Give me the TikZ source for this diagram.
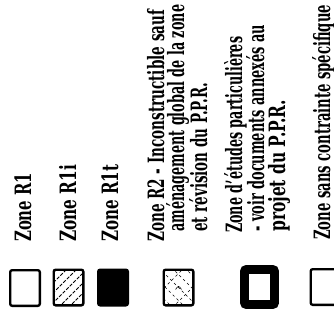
\documentclass[tikz,border=0pt]{standalone}
\usepackage{fontspec}
\setmainfont{DejaVu Serif}
\usepackage{graphicx}
\newcommand\fitw[2]{\resizebox{#1pt}{\height}{#2}}
\begin{document}
\begin{tikzpicture}[x=1pt,y=-1pt,
  lbl/.style={rotate=90, anchor=base west, inner sep=0pt, text=black,
    font=\bfseries\fontsize{22.5}{22.5}\selectfont},
  zbox/.style={draw=black, line width=2.4pt, rounded corners=2pt,
    minimum width=29.6pt, minimum height=35.6pt, inner sep=0pt, outer sep=0pt},
  hatch/.style={line width=0.8pt, dash pattern=on 3.5pt off 1.5pt},
  xhatch/.style={line width=0.6pt, dash pattern=on 2.5pt off 3pt}
]
\useasboundingbox (0,0) rectangle (334,320);

% boxes
\node[zbox] (b1) at (25,288) {};
\node[zbox, path picture={
  \foreach \k in {-40,-30,...,40}
    \draw[hatch] (\k-20,20) -- (\k+20,-20);
}] (b2) at (68.5,287.5) {};
\node[zbox, fill=black] (b3) at (113,287.5) {};
\node[zbox, path picture={
  \foreach \k in {-39,-26,...,39}
    \draw[xhatch] (\k-20,-20) -- (\k+20,20);
  \foreach \k in {-14,14}
    \draw[xhatch] (\k-20,20) -- (\k+20,-20);
  \draw[line width=0.6pt] (-3,2) -- (0,-2) -- (3,2);
}] (b4) at (178.5,287.5) {};
\node[zbox, line width=8.8pt, minimum width=30pt, minimum height=35pt] (b5) at (259.5,287) {};
\node[zbox] (b6) at (325.5,287) {};

% labels
\node[lbl] (t1) at (31,242) {\fitw{69}{Zone R1}};
\node[lbl] (t2) at (76,242) {\fitw{77}{Zone R1i}};
\node[lbl] (t3) at (118,242) {\fitw{77}{Zone R1t}};
\node[lbl] (t4a) at (164,242) {\fitw{232}{Zone R2 - Inconstructible sauf}};
\node[lbl] (t4b) at (184,232) {\fitw{227}{aménagement global de la zone}};
\node[lbl] (t4c) at (207,232) {\fitw{149}{et révision du P.P.R.}};
\node[lbl] (t5a) at (242,233) {\fitw{196}{Zone d'études particulières}};
\node[lbl] (t5b) at (264,232) {\fitw{207}{- voir documents annexés au}};
\node[lbl] (t5c) at (285,232) {\fitw{132}{projet du P.P.R.}};
\node[lbl] (t6) at (330,240) {\fitw{235}{Zone sans contrainte spécifique}};
\end{tikzpicture}
\end{document}
